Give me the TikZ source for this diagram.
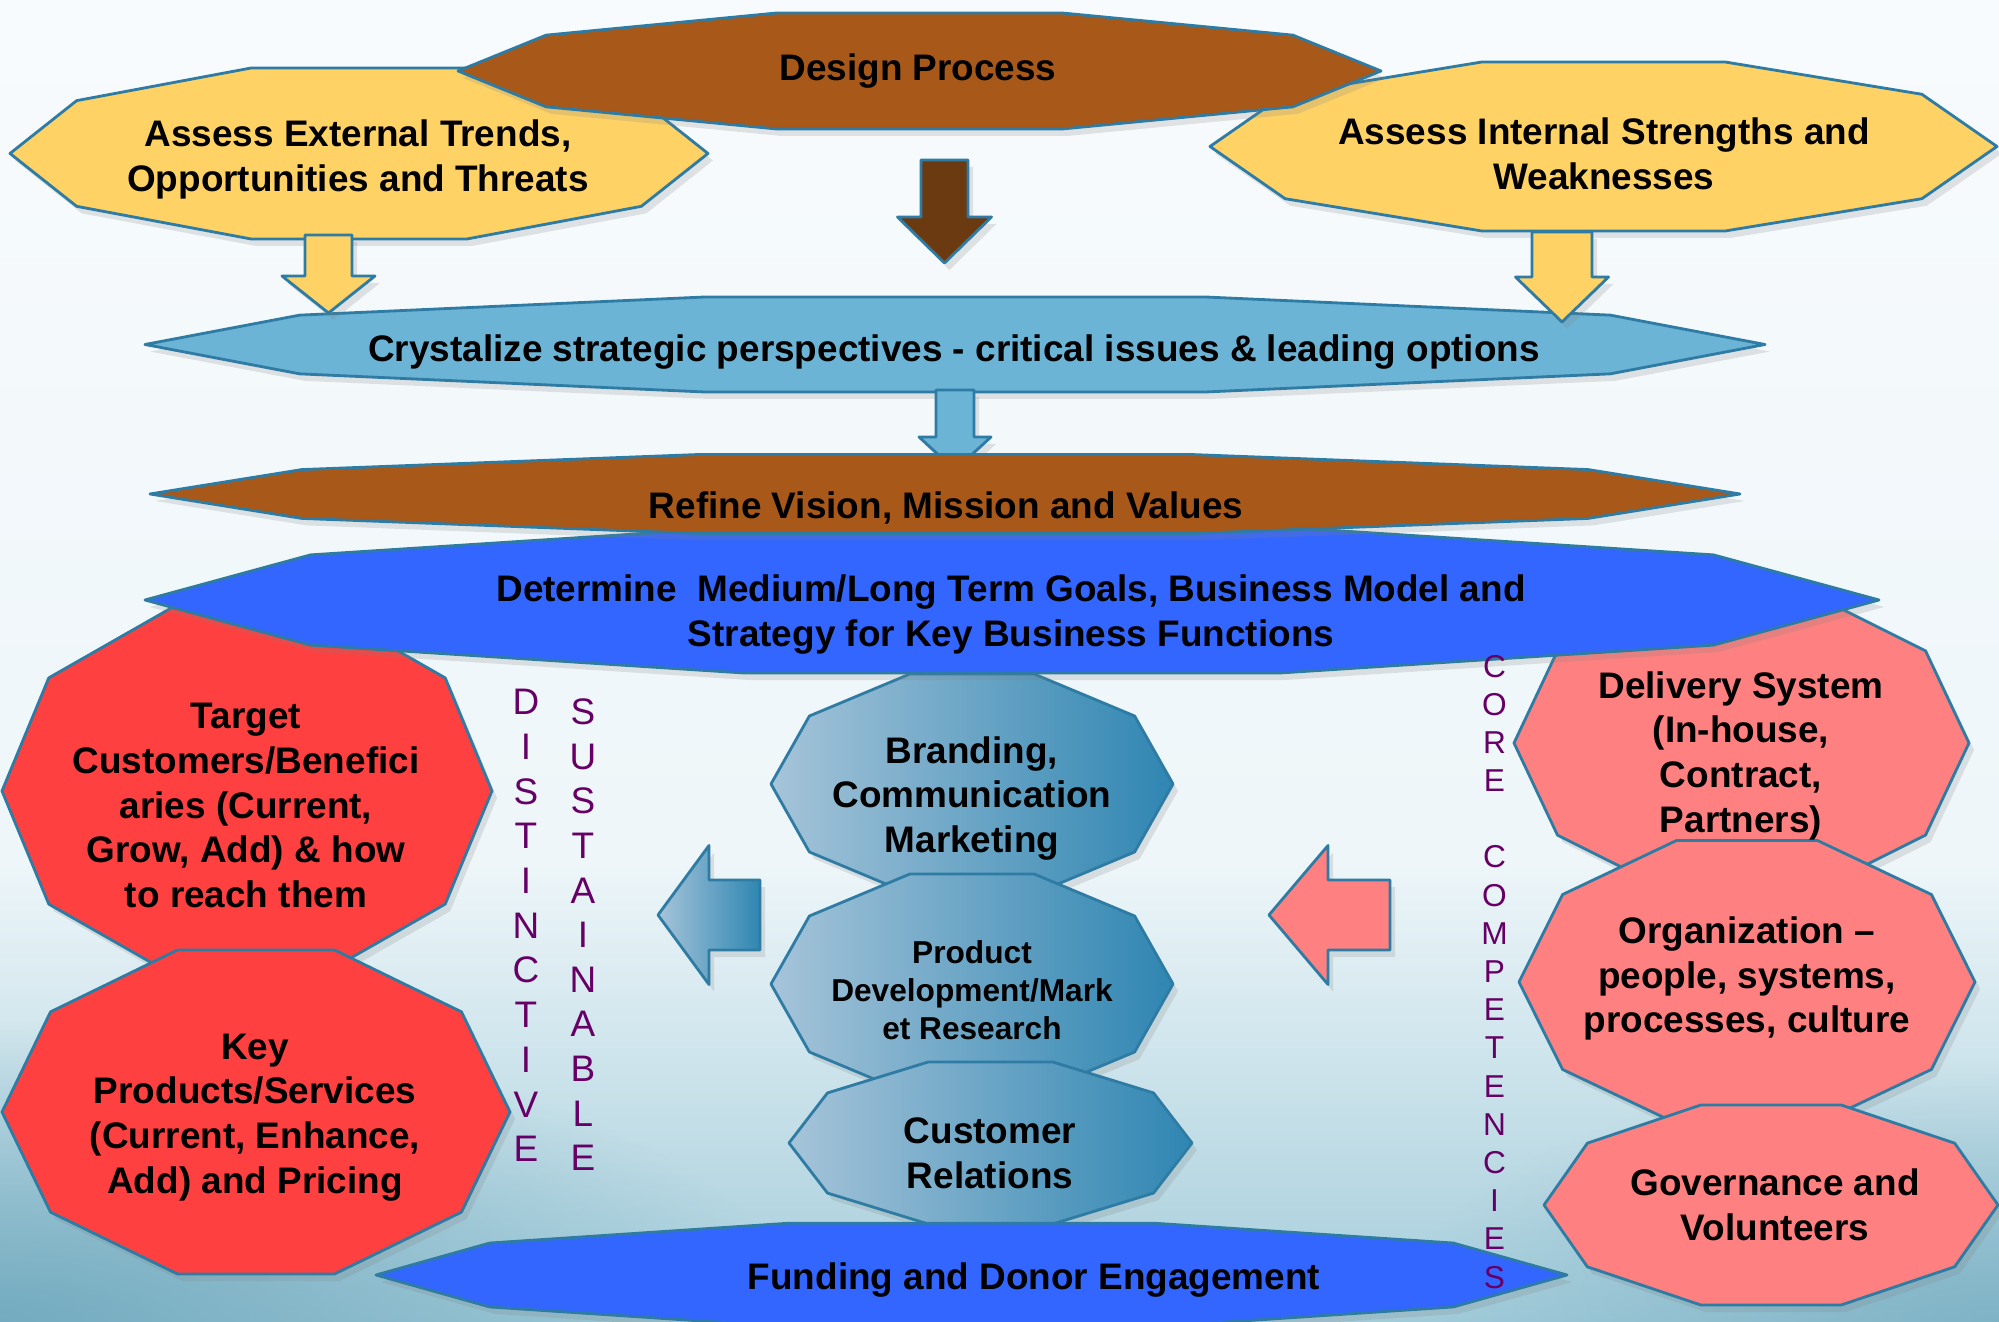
\documentclass[tikz,border=0pt]{standalone}
\usepackage{fontspec}
\setmainfont{Liberation Sans}
\usetikzlibrary{shadows,fadings}

\definecolor{edgeblue}{HTML}{2E7BA4}
\definecolor{goldfill}{HTML}{FFD266}
\definecolor{rustfill}{HTML}{A85818}
\definecolor{darkrust}{HTML}{6C3A10}
\definecolor{skyfill}{HTML}{6CB4D6}
\definecolor{royalfill}{HTML}{3366FF}
\definecolor{redfill}{HTML}{FF4040}
\definecolor{pinkfill}{HTML}{FF8080}
\definecolor{tealdark}{HTML}{2F86B2}
\definecolor{teallight}{HTML}{A6C4D9}
\definecolor{letterpurple}{HTML}{660066}
\definecolor{bgtop}{HTML}{F8FBFD}
\definecolor{bgmid}{HTML}{EEF6F9}
\definecolor{bgbot}{HTML}{A3CCDA}
\definecolor{bgwave}{HTML}{6FA8BD}

\tikzfading[name=soft glow, inner color=transparent!0, outer color=transparent!100]

\tikzset{
  shape edge/.style={draw=edgeblue, line width=0.8pt, line join=round,
    drop shadow={shadow xshift=0.5mm, shadow yshift=-0.7mm, opacity=0.2}},
  gold/.style={shape edge, fill=goldfill},
  rust/.style={shape edge, fill=rustfill},
  sky/.style={shape edge, fill=skyfill},
  royal/.style={shape edge, fill=royalfill},
  redbox/.style={shape edge, fill=redfill},
  pinkbox/.style={shape edge, fill=pinkfill},
  tealbox/.style={shape edge, left color=teallight, right color=tealdark},
  darkarrow/.style={shape edge, fill=darkrust},
  lbl/.style={font=\bfseries\fontsize{10.5}{12.7}\selectfont, align=center, inner sep=0pt, text=black, yshift=-0.35mm},
  small lbl/.style={lbl, font=\bfseries\fontsize{9}{10.8}\selectfont},
  vletter/.style={font=\fontsize{10.5}{12}\selectfont, text=letterpurple, inner sep=0pt},
  cletter/.style={vletter, font=\fontsize{9}{11}\selectfont}
}

% stretched decagon: style, name, centre x, centre y, half width, half height
\newcommand\deca[6][]{%
  \pgfmathsetmacro\decary{#6/0.951}
  \path[#1, shift={(#3,#4)}] (0:#5 and \decary)
    \foreach \a in {36,72,...,324}{ -- (\a:#5 and \decary)} -- cycle;
  \coordinate (#2) at (#3,#4);
}
% block arrow pointing down: style, x, top, shaft half, head half, head start, tip
\newcommand\blockdown[7]{%
  \path[#1] (#2-#4,#3) -- (#2+#4,#3) -- (#2+#4,#6) -- (#2+#5,#6) -- (#2,#7)
    -- (#2-#5,#6) -- (#2-#4,#6) -- cycle;
}
% block arrow pointing left: style, y, tail, shaft half, head half, head base, tip
\newcommand\blockleft[7]{%
  \path[#1] (#3,#2-#4) -- (#3,#2+#4) -- (#6,#2+#4) -- (#6,#2+#5) -- (#7,#2)
    -- (#6,#2-#5) -- (#6,#2-#4) -- cycle;
}

\begin{document}
\begin{tikzpicture}[x=0.01cm, y=-0.01cm]
\useasboundingbox (0,0) rectangle (1999,1322);
% background
\shade[top color=bgtop, bottom color=bgmid] (0,0) rectangle (1999,860);
\shade[top color=bgmid, bottom color=bgbot] (0,860) rectangle (1999,1322);
\begin{scope}
  \clip (0,0) rectangle (1999,1322);
  \fill[bgwave, path fading=soft glow, opacity=0.9] (0,1322) ellipse (800 and 300);
  \fill[bgwave, path fading=soft glow, opacity=0.7] (1999,1322) ellipse (600 and 260);
\end{scope}

% top row
\deca[gold]{ext}{359}{153.5}{349}{85.5}
\deca[gold]{int}{1603.5}{146.5}{393.5}{84.5}
\deca[rust]{des}{919.5}{71}{461.5}{58}
\node[lbl] (ext-txt) at (358,156) {Assess External Trends,\\Opportunities and Threats};
\node[lbl] (int-txt) at (1604,150) {Assess Internal Strengths and\\Weaknesses};
\node[lbl] (des-txt) at (918,68) {Design Process};
\blockdown{darkarrow}{944.5}{160}{23.5}{47}{217}{263}

% perspectives
\deca[sky]{crys}{955}{344.5}{810}{47.5}
\node[lbl] (crys-txt) at (954,349) {Crystalize strategic perspectives - critical issues \& leading options};
\blockdown{gold}{328.5}{235}{23.5}{46.5}{276}{313}
\blockdown{gold}{1562}{232}{30}{46.5}{277}{322}
\blockdown{sky}{955}{390}{19}{36}{437}{470}

% left column
\deca[redbox]{target}{247}{791}{245}{183}
\deca[redbox]{key}{256}{1112}{254}{162}
\node[lbl] (target-txt) at (246,802) {Target\\Customers/Benefici\\aries (Current,\\Grow, Add) \& how\\to reach them};
\node[lbl] (key-txt) at (255,1114) {Key\\Products/Services\\(Current, Enhance,\\Add) and Pricing};

% right column
\deca[pinkbox]{deliv}{1741.5}{743}{227.5}{149}
\deca[pinkbox]{org}{1747}{982}{228}{141.5}
\deca[pinkbox]{gov}{1771}{1205}{227}{100}
\node[lbl] (deliv-txt) at (1741,752) {Delivery System\\(In-house,\\Contract,\\Partners)};
\node[lbl] (org-txt) at (1747,975) {Organization –\\people, systems,\\processes, culture};
\node[lbl] (gov-txt) at (1775,1201) {Governance and\\Volunteers};

% centre column
\deca[tealbox]{brand}{972}{784}{201}{110}
\node[lbl] (brand-txt) at (972,795) {Branding,\\Communication\\Marketing};
\deca[tealbox]{prod}{972}{984}{201}{110}
\node[small lbl] (prod-txt) at (972,987) {Product\\Development/Mark\\et Research};
\deca[tealbox]{cust}{990.5}{1143}{201.5}{81}
\node[lbl] (cust-txt) at (990,1150) {Customer\\Relations};

% goals and vision
\deca[royal]{goals}{1012}{600}{867}{73}
\node[lbl] (goals-txt) at (1011,611) {Determine\ \ Medium/Long Term Goals, Business Model and\\Strategy for Key Business Functions};
\deca[rust]{vision}{945}{494}{795}{39.5}
\node[lbl] (vision-txt) at (946,504) {Refine Vision, Mission and Values};

% funding
\deca[royal]{fund}{971.5}{1275}{595.5}{51.7}
\node[lbl] (fund-txt) at (1034,1277) {Funding and Donor Engagement};

% side arrows
\blockleft{tealbox}{915}{760}{35}{69.5}{709}{658}
\blockleft{pinkbox}{915}{1390}{35}{69.5}{1328}{1269}

% vertical words
\foreach \ch [count=\i from 0] in {D,I,S,T,I,N,C,T,I,V,E}
  \node[vletter] (dist-\i) at (526,{702+44.7*\i}) {\ch};
\foreach \ch [count=\i from 0] in {S,U,S,T,A,I,N,A,B,L,E}
  \node[vletter] (sust-\i) at (583,{712+44.6*\i}) {\ch};
\foreach \ch [count=\i from 0] in {C,O,R,E}
  \node[cletter] (core-\i) at (1494.5,{667+38*\i}) {\ch};
\foreach \ch [count=\i from 0] in {C,O,M,P,E,T,E,N,C,I,E,S}
  \node[cletter] (comp-\i) at (1494.5,{857+38.2*\i}) {\ch};
\end{tikzpicture}
\end{document}
